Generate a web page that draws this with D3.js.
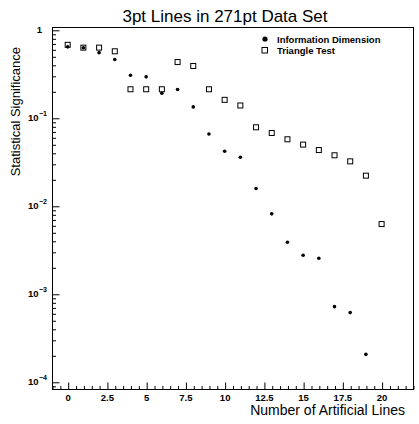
<!DOCTYPE html>
<html>
<head>
<meta charset="utf-8">
<script src="https://cdn.jsdelivr.net/npm/d3@7"></script>
<style>
  html, body { margin: 0; padding: 0; background: #fff; }
  svg { display: block; }
  text { font-family: "Liberation Sans", Arial, sans-serif; fill: #000; }
</style>
</head>
<body>
<svg id="chart" width="419" height="424"></svg>
<script>
// Number of artificial lines added to the data set
const lines = [0, 1, 2, 3, 4, 5, 6, 7, 8, 9, 10, 11, 12, 13, 14, 15, 16, 17, 18, 19, 20];

// Statistical significance per method
const infoDimension = [0.64, 0.625, 0.55, 0.46, 0.305, 0.292, 0.19, 0.21, 0.133, 0.0655, 0.0416,
                       0.0356, 0.0157, 0.0081, 0.00385, 0.00274, 0.00253, 0.000714, 0.000611, 0.000205];
const triangleTest = [0.675, 0.627, 0.627, 0.57, 0.211, 0.211, 0.211, 0.43, 0.388, 0.211, 0.16,
                      0.138, 0.078, 0.0672, 0.057, 0.0496, 0.043, 0.0375, 0.032, 0.022, 0.0062];

const xTicks = [0, 2.5, 5, 7.5, 10, 12.5, 15, 17.5, 20];
const yDecades = [1, 1e-1, 1e-2, 1e-3, 1e-4];

const seriesNames = ["Information Dimension", "Triangle Test"];
const titleText = "3pt Lines in 271pt Data Set";
const xTitle = "Number of Artificial Lines";
const yTitle = "Statistical Significance";

const svg = d3.select("#chart");
const frame = { left: 52, right: 413, top: 27, bottom: 389 };

const x = d3.scaleLinear().domain([-1, 22]).range([frame.left, frame.right]);
const y = d3.scaleLog().domain([8.28e-5, 1.076]).range([frame.bottom, frame.top]);

// Frame
svg.append("rect")
  .attr("x", frame.left + 0.5).attr("y", frame.top + 0.5)
  .attr("width", frame.right - frame.left).attr("height", frame.bottom - frame.top)
  .attr("fill", "none").attr("stroke", "#000").attr("stroke-width", 1);

// X axis: ticks point up into the frame
const xMinor = d3.range(-1, 22.01, 0.5).filter(v => !xTicks.includes(v));
const xAxis = d3.axisTop(x).tickValues(xTicks).tickSize(7).tickFormat(() => "");
const xAxisMinor = d3.axisTop(x).tickValues(xMinor).tickSize(3.5).tickFormat(() => "");
[xAxis, xAxisMinor].forEach(ax => {
  const g = svg.append("g").attr("transform", `translate(0.5,${frame.bottom + 0.5})`).call(ax);
  g.select(".domain").remove();
  g.selectAll("line").attr("stroke", "#000");
});
svg.append("g").selectAll("text").data(xTicks).join("text")
  .attr("x", d => x(d) + 0.5).attr("y", 401)
  .attr("text-anchor", "middle")
  .style("font-size", "9.5px").style("font-weight", "bold")
  .text(d => d3.format("")(d));

// Y axis: log decades with minor ticks, pointing right into the frame
const yMinor = [];
[1e-5, 1e-4, 1e-3, 1e-2, 1e-1].forEach(dec => {
  for (let k = 2; k <= 9; k++) yMinor.push(dec * k);
});
const yMinorIn = yMinor.filter(v => v >= y.domain()[0] && v <= y.domain()[1]);
const yAxis = d3.axisRight(y).tickValues(yDecades).tickSize(7).tickFormat(() => "");
const yAxisMinor = d3.axisRight(y).tickValues(yMinorIn).tickSize(3.5).tickFormat(() => "");
[yAxis, yAxisMinor].forEach(ax => {
  const g = svg.append("g").attr("transform", `translate(${frame.left + 0.5},0.5)`).call(ax);
  g.select(".domain").remove();
  g.selectAll("line").attr("stroke", "#000");
});

const yLab = svg.append("g");
yDecades.forEach(v => {
  const exp = Math.round(Math.log10(v));
  const yy = y(v);
  if (exp === 0) {
    yLab.append("text").attr("x", 42).attr("y", yy + 3.5)
      .attr("text-anchor", "end")
      .style("font-size", "9.5px").style("font-weight", "bold").text("1");
  } else {
    yLab.append("text").attr("x", 38.5).attr("y", yy + 3.5)
      .attr("text-anchor", "end")
      .style("font-size", "9.5px").style("font-weight", "bold").text("10");
    yLab.append("text").attr("x", 39).attr("y", yy - 2)
      .attr("text-anchor", "start")
      .style("font-size", "7px").style("font-weight", "bold").text("\u2212" + Math.abs(exp));
  }
});

// Titles
svg.append("text").attr("x", 225).attr("y", 22).attr("text-anchor", "middle")
  .style("font-size", "17px").text(titleText);
svg.append("text").attr("x", 405).attr("y", 415).attr("text-anchor", "end")
  .style("font-size", "14px").text(xTitle);
svg.append("text").attr("transform", "translate(20,47) rotate(-90)").attr("text-anchor", "end")
  .style("font-size", "13px").text(yTitle);

// Data markers
const plot = svg.append("g");
plot.selectAll("rect.tri").data(triangleTest).join("rect")
  .attr("class", "tri")
  .attr("x", (d, i) => x(lines[i]) - 2.5).attr("y", d => y(d) - 2.5)
  .attr("width", 5).attr("height", 5)
  .attr("fill", "#fff").attr("stroke", "#000").attr("stroke-width", 1);
plot.selectAll("circle.info").data(infoDimension).join("circle")
  .attr("class", "info")
  .attr("cx", (d, i) => x(lines[i])).attr("cy", d => y(d))
  .attr("r", 1.8).attr("fill", "#000");

// Legend
const legend = svg.append("g");
legend.append("circle").attr("cx", 265).attr("cy", 39).attr("r", 2.6).attr("fill", "#000");
legend.append("rect").attr("x", 262).attr("y", 47.5).attr("width", 5.5).attr("height", 5.5)
  .attr("fill", "#fff").attr("stroke", "#000");
legend.selectAll("text").data(seriesNames).join("text")
  .attr("x", 277).attr("y", (d, i) => 42.5 + i * 11)
  .style("font-size", "9.5px").style("font-weight", "bold").text(d => d);
</script>
</body>
</html>
